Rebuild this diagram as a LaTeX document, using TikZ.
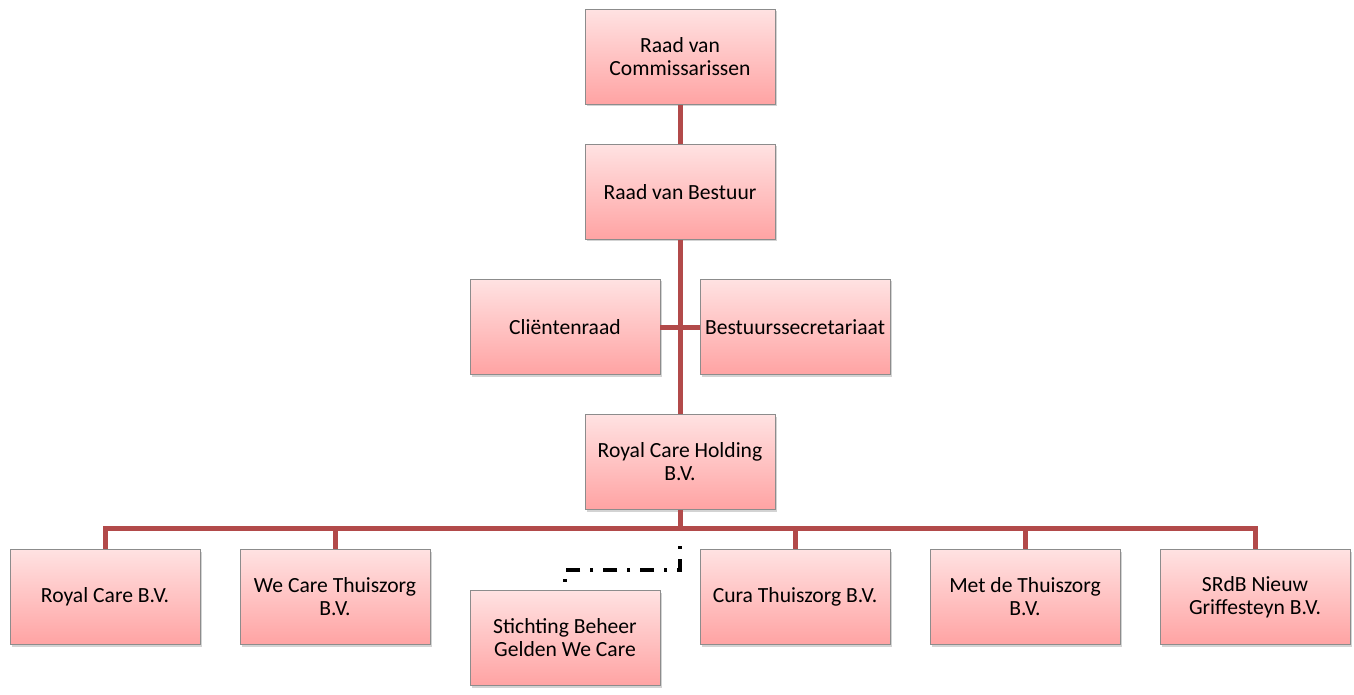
\documentclass[tikz,border=0pt]{standalone}
\usepackage{fontspec}
\setmainfont{Carlito}
\usetikzlibrary{shadows}
\definecolor{boxtop}{HTML}{FFE2E2}
\definecolor{boxbot}{HTML}{FFA3A3}
\definecolor{boxline}{HTML}{8C8C8C}
\definecolor{linkred}{HTML}{B24A4A}
\tikzset{
  orgbox/.style={draw=boxline, top color=boxtop, bottom color=boxbot,
    minimum width=95pt, minimum height=47.5pt, align=center,
    font=\fontsize{10.8}{11.5}\selectfont, inner sep=1pt,
    drop shadow={shadow xshift=1pt, shadow yshift=-1pt, opacity=0.35}},
  link/.style={draw=linkred, line width=2.5pt},
  looselink/.style={draw=black, line width=1.8pt, dash pattern=on 1.5pt off 5pt on 7pt off 5pt}
}
\begin{document}
\begin{tikzpicture}[x=0.5pt, y=-0.5pt]
 \useasboundingbox (0,0) rectangle (1354,695);
 % top of the tree
 \node[orgbox] (rvc) at (680,57) {Raad van\\Commissarissen};
 \node[orgbox] (rvb) at (680,192) {Raad van Bestuur};
 \node[orgbox] (cr) at (565,327) {Cliëntenraad};
 \node[orgbox] (bs) at (795,327) {Bestuurssecretariaat};
 \node[orgbox] (hold) at (680,462) {Royal Care Holding\\B.V.};
 % bottom row
 \node[orgbox] (rc) at (105,597) {Royal Care B.V.};
 \node[orgbox] (wc) at (335,597) {We Care Thuiszorg\\B.V.};
 \node[orgbox] (sb) at (565,638) {Stichting Beheer\\Gelden We Care};
 \node[orgbox] (cura) at (795,597) {Cura Thuiszorg B.V.};
 \node[orgbox] (mdt) at (1025,597) {Met de Thuiszorg\\B.V.};
 \node[orgbox] (srdb) at (1255,597) {SRdB Nieuw\\Griffesteyn B.V.};
 % connectors
 \coordinate (bar) at (680,528);
 \draw[link] (rvc) -- (rvb);
 \draw[link] (rvb) -- (hold);
 \draw[link] (cr) -- (bs);
 \draw[link] (hold) -- (bar);
 \draw[link] (rc.north) |- (bar) -| (srdb.north);
 \draw[link] (bar -| wc) -- (wc.north);
 \draw[link] (bar -| cura) -- (cura.north);
 \draw[link] (bar -| mdt) -- (mdt.north);
 \draw[looselink] (680,546) -- (680,570) -| (sb.north);
\end{tikzpicture}
\end{document}
